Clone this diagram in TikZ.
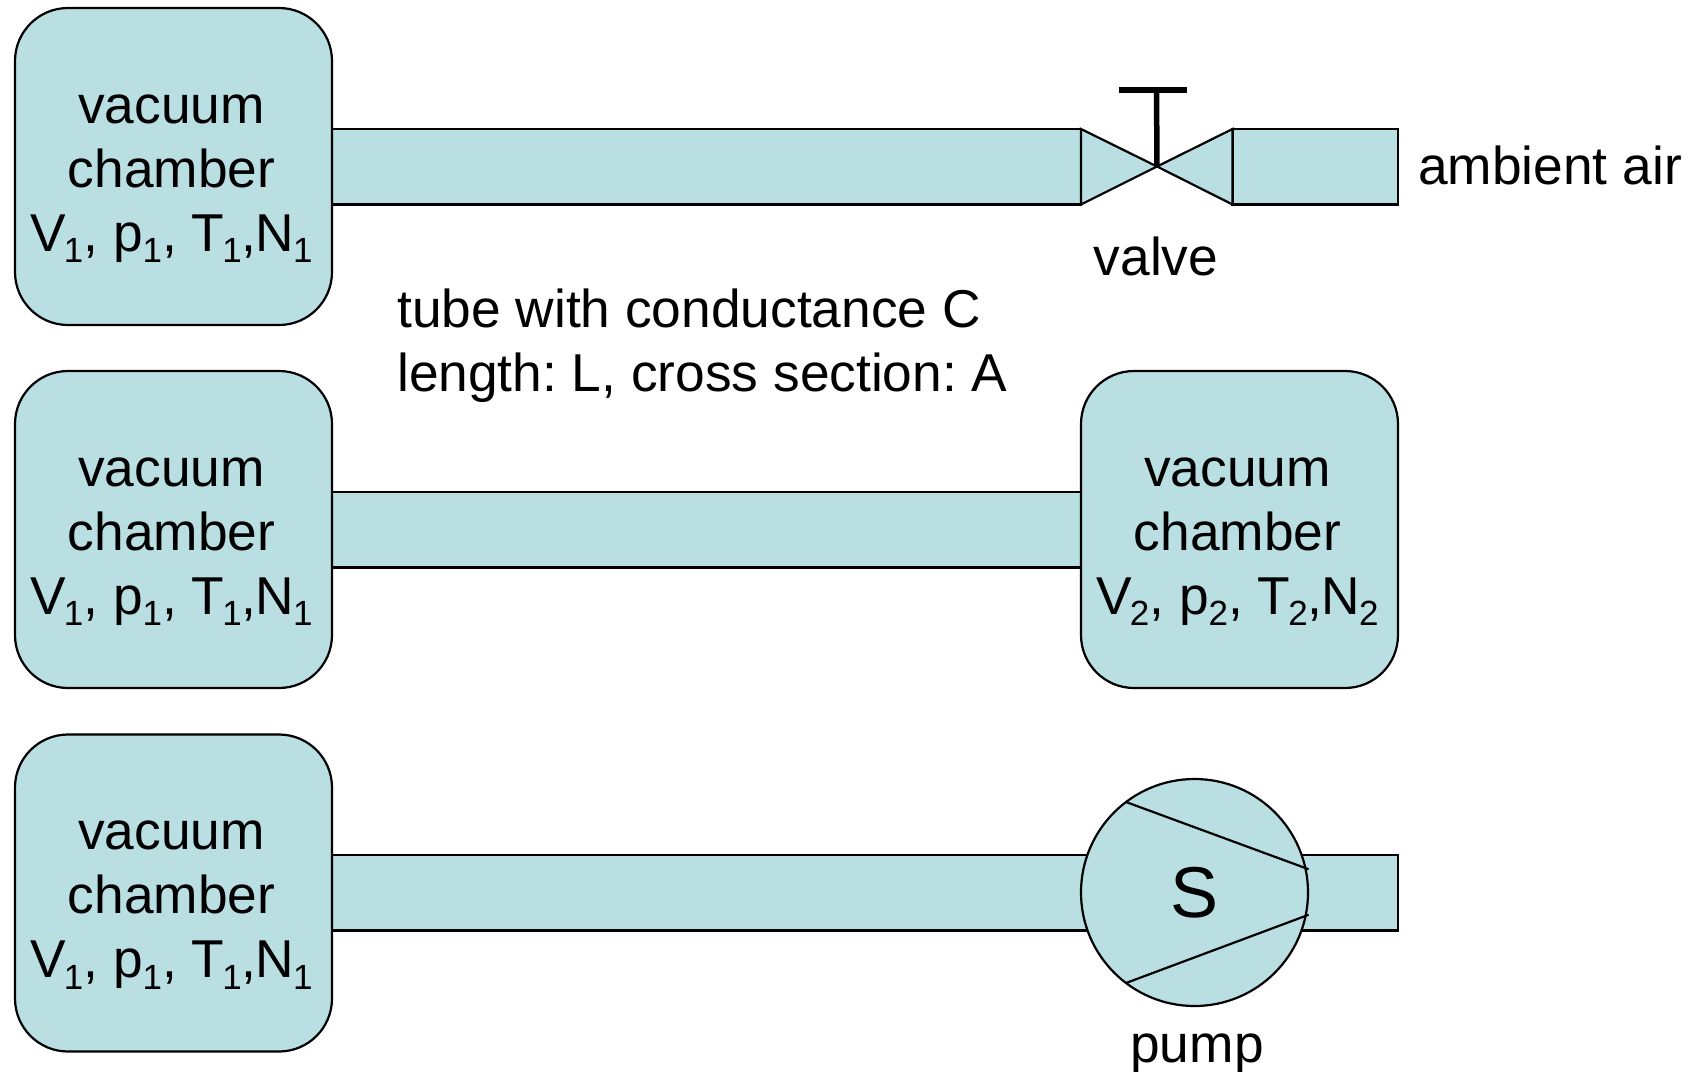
\documentclass[tikz,border=0pt]{standalone}
\usepackage{fontspec}
\setmainfont{Liberation Sans}
\newcommand{\lowidx}[1]{{\fontsize{35}{35}\selectfont\smash{\raisebox{-0.33em}{#1}}}}
\newcommand{\chambertext}[1]{vacuum\\chamber\\V\kern-2pt\lowidx{#1}, p\lowidx{#1}, T\kern-2pt\lowidx{#1},\kern-1pt N\kern-1pt\lowidx{#1}}
\definecolor{fillblue}{HTML}{B9DFE3}
\tikzset{
  x=1pt,y=-1pt,
  outl/.style={draw=black,line width=2.2pt,fill=fillblue,outer sep=0pt},
  chamberbox/.style={outl,rounded corners=53pt,minimum width=317pt,minimum height=317pt,inner sep=0pt,anchor=center},
  chamberlabel/.style={inner sep=0pt,align=center,anchor=center,font=\fontsize{53.3}{64}\selectfont\frenchspacing},
  tube/.style={outl,inner sep=0pt,anchor=north west},
  lbl/.style={inner sep=0pt,font=\fontsize{53.3}{64}\selectfont\frenchspacing,anchor=base,align=left},
  thin line/.style={draw=black,line width=2.2pt,line cap=round}
}
\begin{document}
\begin{tikzpicture}
\useasboundingbox (0,0) rectangle (1697,1071);
% row 1
\node[tube,minimum width=749pt,minimum height=75.5pt] (tubeA) at (332,129) {};
\node[chamberbox] (chA) at (173.5,166.5) {};
\node[chamberlabel] (chAt) at ([shift={(-2,12)}]chA.center) {\chambertext{1}};
\coordinate (vc) at (1157,166.5);
\draw[outl,line join=miter] (tubeA.north east) -- (vc) -- (tubeA.south east) -- cycle;
\node[tube,minimum width=165.5pt,minimum height=75.5pt] (tubeB) at (1232.5,129) {};
\draw[outl,line join=miter] (tubeB.north west) -- (vc) -- (tubeB.south west) -- cycle;
\coordinate (stemtop) at (1156.5,90);
\coordinate (barL) at (1119,90);
\coordinate (barR) at (1187,90);
\draw[black,line width=5.5pt] (vc) -- (stemtop);
\draw[black,line width=6.5pt] (barL) -- (barR);
\node[lbl,anchor=base west] (air) at (1418,184) {ambient air};
\node[lbl] (valve) at (1156,275) {valve};
\node[lbl,anchor=base west] (cond) at (397,327) {tube with conductance C};
\node[lbl,anchor=base west] (len) at (397,391) {length: L, cross section: A};
% row 2
\node[tube,minimum width=749pt,minimum height=75.5pt] (tubeC) at (332,492) {};
\node[chamberbox] (chB) at (173.5,529.5) {};
\node[chamberlabel] (chBt) at ([shift={(-2,12)}]chB.center) {\chambertext{1}};
\node[chamberbox] (chC) at (1239.5,529.5) {};
\node[chamberlabel] (chCt) at ([shift={(-2,12)}]chC.center) {\chambertext{2}};
% row 3
\node[tube,minimum width=1066pt,minimum height=75.5pt] (tubeD) at (332,855) {};
\node[chamberbox] (chD) at (173.5,893) {};
\node[chamberlabel] (chDt) at ([shift={(-2,12)}]chD.center) {\chambertext{1}};
\node[outl,circle,minimum size=227pt,inner sep=0pt,font=\fontsize{72}{72}\selectfont] (pumpc) at (1194.5,892.5) {S};
\coordinate (p1) at (1126,802);
\coordinate (p2) at (1308,869);
\coordinate (p3) at (1308,915);
\coordinate (p4) at (1126,983);
\draw[thin line] (p1) -- (p2);
\draw[thin line] (p4) -- (p3);
\node[lbl] (pump) at (1197,1062) {pump};
\end{tikzpicture}
\end{document}
